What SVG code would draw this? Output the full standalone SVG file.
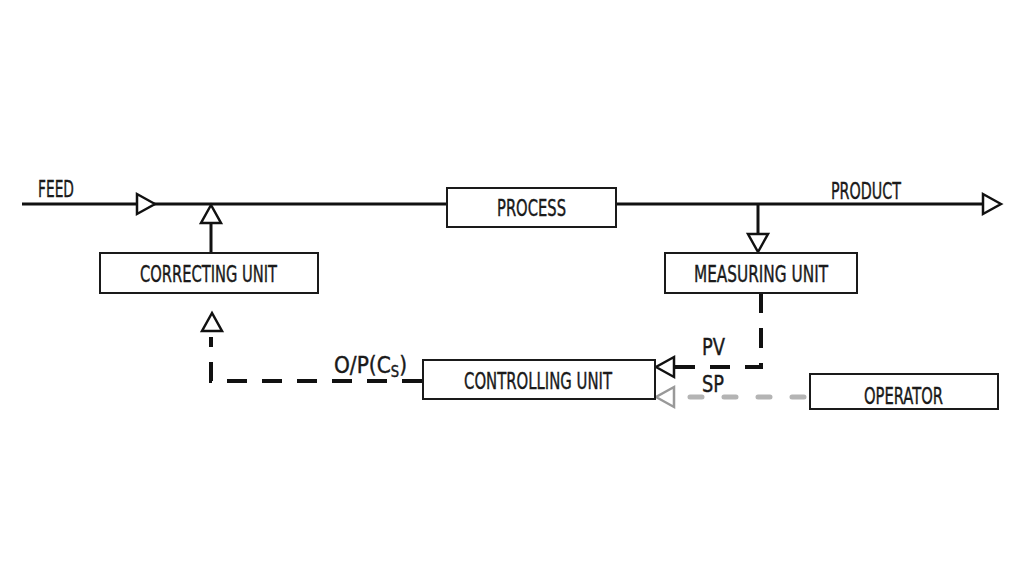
<svg xmlns="http://www.w3.org/2000/svg" xmlns:xlink="http://www.w3.org/1999/xlink" width="1024" height="576" viewBox="0 0 1024 576">
<style>
.box{fill:#fff;stroke:#1a1a1a;stroke-width:2}
.t{font-family:"DejaVu Sans Condensed","DejaVu Sans","Liberation Sans",sans-serif;font-stretch:condensed;font-size:23px;fill:#1a1a1a;stroke:#1a1a1a;stroke-width:0.4}
.main{fill:none;stroke:#111;stroke-width:3}
.dash{fill:none;stroke:#111;stroke-width:4;stroke-dasharray:20 15}
.gdash{fill:none;stroke:#b4b4b4;stroke-width:5;stroke-dasharray:12 22;stroke-linecap:round}
.arr{fill:#fff;stroke:#111;stroke-width:2.5;stroke-linejoin:miter}
.garr{fill:#fff;stroke:#999;stroke-width:2.5}
</style>
<defs>
<path id="tri" d="M0,0 L-18,-10 L-18,10 Z"/>
</defs>
<rect width="1024" height="576" fill="#fff"/>
<g id="connectors">
<path class="main" d="M22,204 H447"/>
<path class="main" d="M616,204 H1000"/>
<path class="main" d="M211,252 V210"/>
<path class="main" d="M758,204 V246"/>
<path class="dash" d="M761,293 V367 H670"/>
<path class="dash" d="M422,381 H211 V337"/>
<path class="gdash" d="M804,397 H672"/>
<use xlink:href="#tri" class="arr" transform="translate(155,204)"/>
<use xlink:href="#tri" class="arr" transform="translate(1001,204)"/>
<use xlink:href="#tri" class="arr" transform="translate(211,205) rotate(-90)"/>
<use xlink:href="#tri" class="arr" transform="translate(758,252) rotate(90)"/>
<use xlink:href="#tri" class="arr" transform="translate(656,367) rotate(180)"/>
<use xlink:href="#tri" class="arr" transform="translate(212,313) rotate(-90)"/>
<use xlink:href="#tri" class="garr" transform="translate(656,397) rotate(180)"/>
</g>
<g id="labels">
<text class="t" x="38" y="197" font-size="20" textLength="36" lengthAdjust="spacingAndGlyphs">FEED</text>
<text class="t" x="831" y="199" textLength="70" lengthAdjust="spacingAndGlyphs">PRODUCT</text>
<text class="t" x="702" y="355" font-size="25" textLength="23" lengthAdjust="spacingAndGlyphs">PV</text>
<text class="t" x="702" y="392" font-size="25" textLength="22" lengthAdjust="spacingAndGlyphs">SP</text>
<text class="t" x="334" y="373" font-size="21" textLength="73" lengthAdjust="spacingAndGlyphs">O/P(C<tspan font-size="15" dy="4">S</tspan><tspan dy="-4">)</tspan></text>
</g>
<g id="process">
<rect class="box" x="447" y="188" width="169" height="39"/>
<text class="t" x="497" y="216" textLength="69" lengthAdjust="spacingAndGlyphs">PROCESS</text>
</g>
<g id="correcting-unit">
<rect class="box" x="100" y="253" width="218" height="40"/>
<text class="t" x="140" y="282" textLength="137" lengthAdjust="spacingAndGlyphs">CORRECTING UNIT</text>
</g>
<g id="measuring-unit">
<rect class="box" x="665" y="253" width="192" height="40"/>
<text class="t" x="694" y="282" textLength="134" lengthAdjust="spacingAndGlyphs">MEASURING UNIT</text>
</g>
<g id="controlling-unit">
<rect class="box" x="423" y="360" width="232" height="39"/>
<text class="t" x="464" y="389" textLength="148" lengthAdjust="spacingAndGlyphs">CONTROLLING UNIT</text>
</g>
<g id="operator">
<rect class="box" x="810" y="374" width="188" height="35"/>
<text class="t" x="864" y="404" textLength="79" lengthAdjust="spacingAndGlyphs">OPERATOR</text>
</g>
</svg>
